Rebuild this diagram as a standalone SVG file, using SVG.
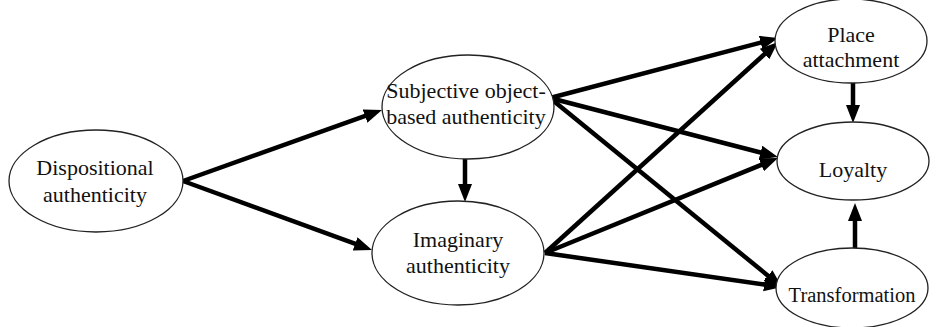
<svg xmlns="http://www.w3.org/2000/svg" width="937" height="327" viewBox="0 0 937 327">
  <style>
    .node ellipse { fill: #ffffff; stroke: #222222; stroke-width: 1.3; }
    .node text { font-family: "Liberation Serif", "Times New Roman", Times, serif; font-size: 22px; fill: #111111; text-anchor: middle; }
    .edge { stroke: #000000; stroke-width: 4.5; fill: none; marker-end: url(#head); }
  </style>
  <defs>
    <marker id="head" markerUnits="userSpaceOnUse" markerWidth="20" markerHeight="16" refX="4" refY="7" orient="auto">
      <path d="M0,0 L18,7 L0,14 z" fill="#000000"/>
    </marker>
  </defs>
  <rect width="937" height="327" fill="#ffffff"/>

  <g id="connectors">
    <line class="edge" x1="183" y1="181" x2="368.8" y2="114.7"/>
    <line class="edge" x1="183" y1="181" x2="358.9" y2="245.2"/>
    <line class="edge" x1="465" y1="159" x2="465" y2="188"/>
    <line class="edge" x1="550" y1="98" x2="764.5" y2="41.6"/>
    <line class="edge" x1="550" y1="98" x2="764.4" y2="153.5"/>
    <line class="edge" x1="550" y1="98" x2="771.1" y2="278.2"/>
    <line class="edge" x1="545" y1="253" x2="767.6" y2="51.4"/>
    <line class="edge" x1="545" y1="253" x2="765" y2="163.3"/>
    <line class="edge" x1="545" y1="253" x2="768.1" y2="285"/>
    <line class="edge" x1="853" y1="83" x2="853" y2="109"/>
    <line class="edge" x1="855" y1="248" x2="855" y2="217"/>
  </g>

  <g id="dispositional" class="node">
    <ellipse cx="96" cy="181" rx="87" ry="51"/>
    <text x="95" y="175">Dispositional</text>
    <text x="95" y="202">authenticity</text>
  </g>
  <g id="subjective" class="node">
    <ellipse cx="468" cy="107" rx="86" ry="52"/>
    <text x="466" y="98">Subjective object-</text>
    <text x="466" y="124">based authenticity</text>
  </g>
  <g id="imaginary" class="node">
    <ellipse cx="458" cy="253" rx="86" ry="52"/>
    <text x="458" y="247">Imaginary</text>
    <text x="458" y="273">authenticity</text>
  </g>
  <g id="place" class="node">
    <ellipse cx="851" cy="41" rx="76" ry="42"/>
    <text x="851" y="42">Place</text>
    <text x="851" y="67">attachment</text>
  </g>
  <g id="loyalty" class="node">
    <ellipse cx="853" cy="161" rx="76" ry="39"/>
    <text x="853" y="177">Loyalty</text>
  </g>
  <g id="transformation" class="node">
    <ellipse cx="852" cy="288" rx="76" ry="40"/>
    <text x="852" y="302" style="font-size:20.5px">Transformation</text>
  </g>
</svg>
